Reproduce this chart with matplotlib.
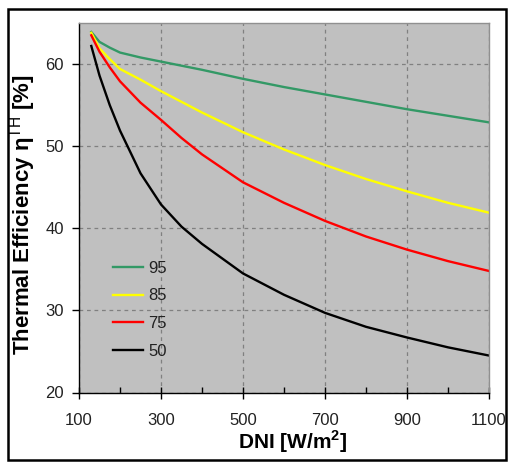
import matplotlib
matplotlib.use("Agg")
import matplotlib.pyplot as plt
from matplotlib.patches import Rectangle
from matplotlib.ticker import MultipleLocator

plt.rcParams['font.family'] = ['Liberation Sans', 'DejaVu Sans']
plt.rcParams['mathtext.fontset'] = 'custom'
plt.rcParams['mathtext.rm'] = 'Liberation Sans'
plt.rcParams['mathtext.bf'] = 'Liberation Sans:bold'

# DNI values [W/m2] and thermal efficiency [%] per curve
dni = [130, 150, 175, 200, 250, 300, 350, 400, 500, 600, 700, 800, 900, 1000, 1100]
eff_95 = [63.9, 62.7, 62.0, 61.4, 60.8, 60.3, 59.8, 59.3, 58.2, 57.2, 56.3, 55.4, 54.5, 53.7, 52.9]
eff_85 = [63.8, 61.9, 60.6, 59.4, 58.1, 56.7, 55.4, 54.1, 51.7, 49.6, 47.7, 46.0, 44.5, 43.1, 41.9]
eff_75 = [63.5, 61.5, 59.6, 57.9, 55.3, 53.2, 51.0, 49.0, 45.6, 43.1, 40.9, 39.0, 37.4, 36.0, 34.8]
eff_50 = [62.2, 58.6, 55.0, 51.9, 46.7, 42.9, 40.2, 38.1, 34.5, 31.9, 29.7, 28.0, 26.7, 25.5, 24.5]

labels = ['95', '85', '75', '50']
series = [eff_95, eff_85, eff_75, eff_50]
colors = ['#339966', '#FFFF00', '#FF0000', '#000000']

fig = plt.figure(figsize=(5.10, 4.62), dpi=100)
ax = fig.add_axes([79 / 510, (462 - 392.5) / 462, 410 / 510, 369.5 / 462])
ax.set_facecolor('#C0C0C0')

for lab, ys, c in zip(labels, series, colors):
    ax.plot(dni, ys, color=c, lw=1.7, label=lab, solid_joinstyle='round')

ax.set_xlim(100, 1100)
ax.set_ylim(20, 65)
ax.set_xticks([100, 300, 500, 700, 900, 1100])
ax.xaxis.set_minor_locator(MultipleLocator(100))
ax.set_yticks([20, 30, 40, 50, 60])

ax.grid(True, which='major', color='#808080', linestyle=(0, (3, 3)), lw=0.9)
ax.set_axisbelow(True)

for s in ['top', 'right']:
    ax.spines[s].set_color('#909090')
    ax.spines[s].set_linewidth(1.0)
for s in ['left', 'bottom']:
    ax.spines[s].set_color('black')
    ax.spines[s].set_linewidth(1.0)

ax.tick_params(axis='y', which='major', direction='out', length=5, width=1,
               labelsize=12, labelcolor='#222222', pad=6)
ax.tick_params(axis='x', which='major', direction='inout', length=8, width=1,
               labelsize=12, labelcolor='#222222', pad=11)
ax.tick_params(axis='x', which='minor', direction='in', length=4, width=1)

ax.set_xlabel('DNI [W/m$^{\\mathbf{2}}$]', fontsize=15, fontweight='bold')
ax.xaxis.set_label_coords(0.522, -0.098)
ax.set_ylabel('Thermal Efficiency η$^{\\mathrm{TH}}$ [%]', fontsize=16,
              fontweight='bold')
ax.yaxis.set_label_coords(-0.10, 0.48)

leg = ax.legend(loc='upper left', bbox_to_anchor=(0.083, 0.3565), frameon=False,
                fontsize=12, handlelength=1.8, handletextpad=0.3,
                labelspacing=0.76, borderpad=0, borderaxespad=0)
for t in leg.get_texts():
    t.set_color('#222222')

# outer frame around the whole chart
fig.patches.append(Rectangle((8 / 510, 2 / 462), 498 / 510, 451 / 462,
                             transform=fig.transFigure, fill=False,
                             edgecolor='black', lw=1.8))

fig.savefig('out.png', dpi=100)
